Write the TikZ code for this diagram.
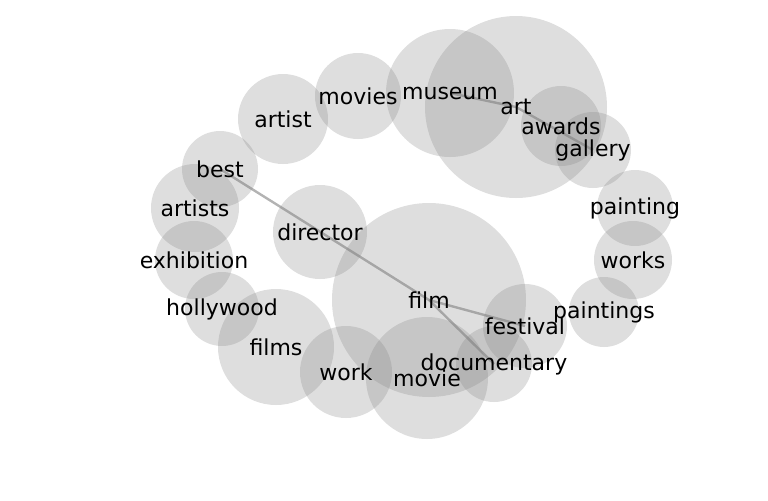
\documentclass[tikz,border=0pt]{standalone}
\usepackage{fontspec}
\setmainfont{DejaVu Sans}
\usetikzlibrary{calc}

\begin{document}
\begin{tikzpicture}[x=0.5pt, y=-0.5pt, every node/.style={font=\fontsize{11}{13}\selectfont},
  bubble/.style={circle, fill=gray, fill opacity=0.26, inner sep=0pt},
  link/.style={draw=gray, line width=1.2pt, draw opacity=0.6}]
  \useasboundingbox (0,0) rectangle (768,500);
  \node[bubble, minimum size=91pt] (art) at (516,107) {};
  \node[bubble, minimum size=64pt] (museum) at (450,93) {};
  \node[bubble, minimum size=43pt] (movies) at (358,96) {};
  \node[bubble, minimum size=45pt] (artist) at (283,119) {};
  \node[bubble, minimum size=38pt] (best) at (220,169) {};
  \node[bubble, minimum size=44pt] (artists) at (195,208) {};
  \node[bubble, minimum size=39pt] (exhibition) at (194,260) {};
  \node[bubble, minimum size=37pt] (hollywood) at (222,309) {};
  \node[bubble, minimum size=58pt] (films) at (276,347) {};
  \node[bubble, minimum size=46pt] (work) at (346,372) {};
  \node[bubble, minimum size=61pt] (movie) at (427,378) {};
  \node[bubble, minimum size=97pt] (film) at (429,300) {};
  \node[bubble, minimum size=47pt] (director) at (320,232) {};
  \node[bubble, minimum size=38pt] (documentary) at (494,364) {};
  \node[bubble, minimum size=42pt] (festival) at (525,326) {};
  \node[bubble, minimum size=35pt] (paintings) at (604,312) {};
  \node[bubble, minimum size=39pt] (works) at (633,260) {};
  \node[bubble, minimum size=38pt] (painting) at (635,208) {};
  \node[bubble, minimum size=38pt] (gallery) at (593,150) {};
  \node[bubble, minimum size=40pt] (awards) at (561,126) {};
  \draw[link] (best.center) -- (film.center);
  \draw[link] (film.center) -- (festival.center);
  \draw[link] (film.center) -- (documentary.center);
  \draw[link] (museum.center) -- (art.center);
  \draw[link] (art.center) -- (gallery.center);
  \foreach \w in {art, museum, movies, artist, best, artists, exhibition, hollywood, films, work,
    movie, film, director, documentary, festival, paintings, works, painting, gallery, awards}
    \node at (\w) {\w};
\end{tikzpicture}
\end{document}
